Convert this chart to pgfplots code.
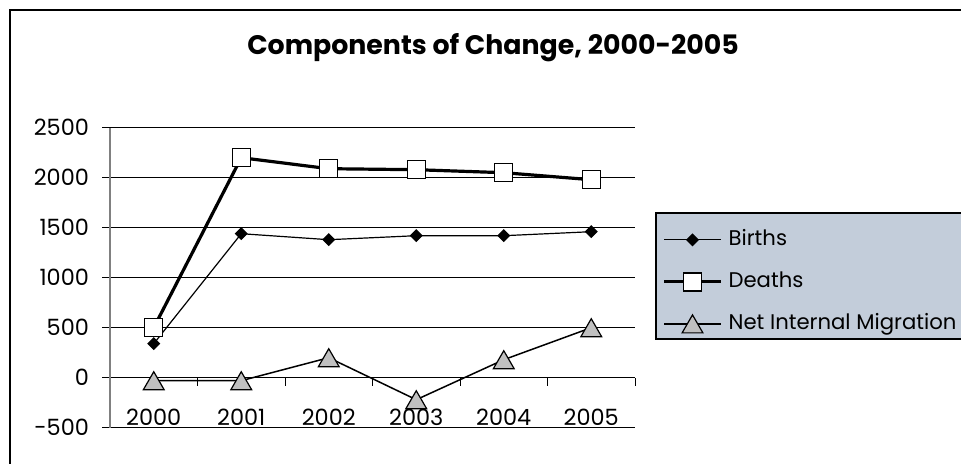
\documentclass[border=0pt]{standalone}
\usepackage{fontspec}
\setmainfont{Poppins}
\usepackage{pgfplots}
\pgfplotsset{compat=1.18}
\definecolor{legbg}{HTML}{C3CDDA}
\definecolor{trigray}{HTML}{C0C0C0}
\begin{document}
\begin{tikzpicture}
\path[use as bounding box] (0,0) rectangle (480.5pt,-232pt);
\draw[line width=0.9pt] (5pt,-240pt) -- (5pt,-5pt) -- (490pt,-5pt);
\node[font=\fontsize{13.4}{15}\selectfont\bfseries] at (246.5pt,-24pt) {Components of Change, 2000-2005};
\draw[fill=legbg, line width=0.6pt] (328pt,-106.5pt) rectangle (495pt,-169.5pt);
\begin{axis}[
  at={(55pt,-213.85pt)}, anchor=south west,
  width=262.5pt, height=150pt, scale only axis,
  xmin=-0.5, xmax=5.5, ymin=-500, ymax=2500,
  axis y line*=left, axis x line*=middle,
  hide obscured x ticks=false, hide obscured y ticks=false,
  ytick={-500,0,...,2500},
  /pgf/number format/assume math mode=true,
  /pgf/number format/1000 sep={},
  ymajorgrids, grid style={black, line width=0.5pt},
  xtick={0,...,5}, xticklabels={2000,2001,2002,2003,2004,2005},
  minor xtick={-0.5,0.5,...,5.5},
  tick align=outside,
  major tick length=4pt, minor tick length=4pt,
  major x tick style={draw=none},
  minor x tick style={black, line width=0.5pt},
  y tick style={black, line width=0.5pt},
  y axis line style={draw=gray, line width=0.8pt},
  x axis line style={black, line width=0.6pt},
  tick label style={font=\fontsize{11.2}{12}\selectfont},
  xticklabel style={yshift=-8pt},
  yticklabel style={xshift=-3pt},
  clip=false,
  legend cell align=left,
  legend style={at={(1.04,0.7157)}, anchor=north west, draw=none, fill=none,
    font=\fontsize{10.6}{12}\selectfont, row sep=10.5pt, column sep=3pt,
    nodes={text height=8pt, text depth=2.5pt, inner sep=0pt}, yshift=-6pt},
  legend image code/.code={\draw[mark repeat=2,mark phase=2] plot coordinates {(0pt,0pt) (14.25pt,0pt) (28.5pt,0pt)};},
]
\addplot[black, line width=0.6pt, mark=square*, mark size=2pt, mark options={rotate=45, solid}]
  coordinates {(0,340)(1,1440)(2,1380)(3,1420)(4,1420)(5,1460)};
\addlegendentry{Births}
\addplot[black, line width=1.6pt, mark=square*, mark size=4.5pt, mark options={fill=white, line width=0.7pt}]
  coordinates {(0,500)(1,2200)(2,2090)(3,2080)(4,2050)(5,1980)};
\addlegendentry{Deaths}
\addplot[black, line width=0.75pt, mark=triangle*, mark size=6pt, mark options={fill=trigray, line width=0.6pt, yshift=-1.5pt}]
  coordinates {(0,-30)(1,-30)(2,200)(3,-220)(4,180)(5,500)};
\addlegendentry{Net Internal Migration}
\end{axis}
\end{tikzpicture}
\end{document}
